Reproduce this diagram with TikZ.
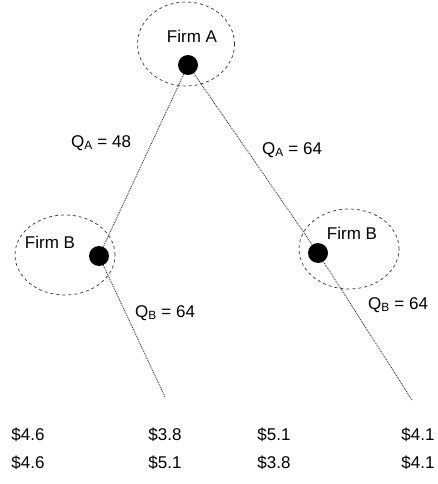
\documentclass[tikz,border=0pt]{standalone}
\usepackage{fontspec}
\setmainfont{Liberation Sans}
\usetikzlibrary{shapes.geometric}

\begin{document}
\begin{tikzpicture}[x=1pt,y=-1pt]
\tikzstyle{nod}= [circle, inner sep=0pt, fill=black, minimum size=20pt]
\tikzstyle{infoset}= [ellipse, draw=black!80, dashed, line width=0.7pt, inner sep=0pt]
\tikzstyle{branch}= [draw=black!80, densely dotted, line width=0.9pt]
\tikzstyle{txt}= [font=\fontsize{17}{19}\selectfont, inner sep=0pt]
\useasboundingbox (0,0) rectangle (438,484);
%firm A
\node[infoset, minimum width=97pt, minimum height=84pt] (sA) at (186,44) {};
\node[txt] (tA) at (192,36) {Firm A};
\node[nod] (A) at (188,65) {};
%left firm B
\node[infoset, minimum width=100pt, minimum height=80pt] (sB1) at (65,255) {};
\node[txt] (tB1) at (50,242) {Firm B};
\node[nod] (B1) at (99,256) {};
%right firm B
\node[infoset, minimum width=100pt, minimum height=80pt] (sB2) at (349,249) {};
\node[txt] (tB2) at (352,233) {Firm B};
\node[nod] (B2) at (318,253) {};
%ends
\coordinate (e1) at (165,397);
\coordinate (e2) at (412,400);
\draw[branch] (A) -- (B1);
\draw[branch] (A) -- (B2);
\draw[branch] (B1) -- (e1);
\draw[branch] (B2) -- (e2);
%quantities
\node[txt] (q1) at (101,143) {Q\textsubscript{A} = 48};
\node[txt] (q2) at (292,150) {Q\textsubscript{A} = 64};
\node[txt] (q3) at (165,313) {Q\textsubscript{B} = 64};
\node[txt] (q4) at (398,305) {Q\textsubscript{B} = 64};
%payoffs
\node[txt] (p1) at (28,435) {\$4.6};
\node[txt] (p2) at (165,435) {\$3.8};
\node[txt] (p3) at (274,435) {\$5.1};
\node[txt] (p4) at (418,435) {\$4.1};
\node[txt] (r1) at (28,463) {\$4.6};
\node[txt] (r2) at (165,463) {\$5.1};
\node[txt] (r3) at (274,463) {\$3.8};
\node[txt] (r4) at (418,463) {\$4.1};
\end{tikzpicture}
\end{document}
